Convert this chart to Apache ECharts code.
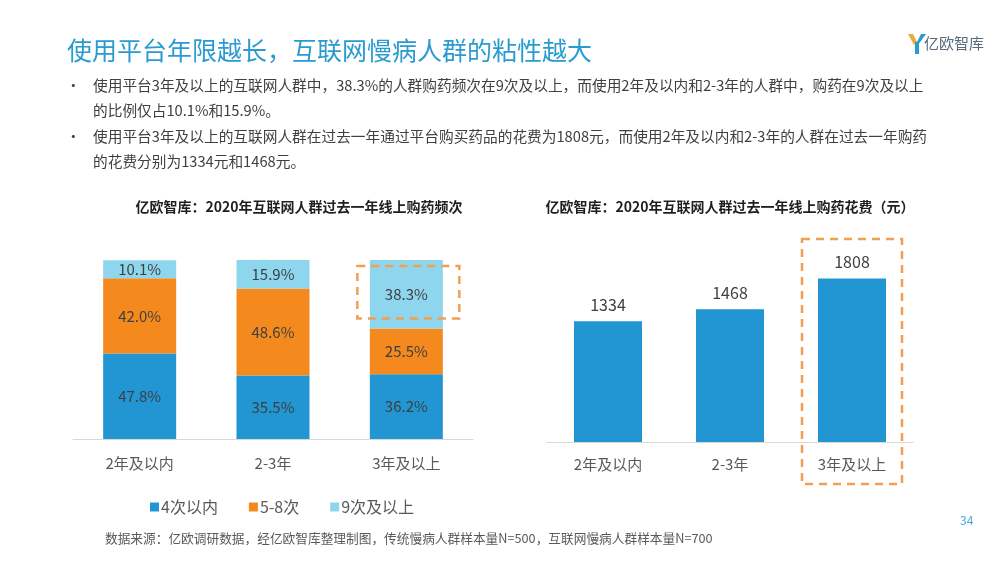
<!DOCTYPE html>
<html><head><meta charset="utf-8">
<script src="https://cdn.jsdelivr.net/npm/echarts@6/dist/echarts.min.js"></script>
<style>html,body{margin:0;padding:0;background:#fff}#c{width:1000px;height:563px}</style>
</head><body><div id="c"></div>
<script>
const categories = ['2年及以内', '2-3年', '3年及以上'];
const freqNames = ['4次以内', '5-8次', '9次及以上'];
const freqLow = [47.8, 35.5, 36.2];
const freqMid = [42.0, 48.6, 25.5];
const freqHigh = [10.1, 15.9, 38.3];
const spend = [1334, 1468, 1808];

const FONT = '"Noto Sans CJK SC", "Noto Sans", sans-serif';
const C_BLUE = '#2196D3', C_ORANGE = '#F48A1E', C_LIGHT = '#8ED6EE';
const chart = echarts.init(document.getElementById('c'));

const pctLabel = {show: true, position: 'inside', color: '#3F3F3F', fontSize: 15, fontFamily: FONT,
  formatter: p => p.value.toFixed(1) + '%'};

const option = {
  backgroundColor: '#fff',
  textStyle: {fontFamily: FONT},
  animation: false,
  title: [
    {text: '使用平台年限越长，互联网慢病人群的粘性越大', left: 62, top: 33,
      textStyle: {color: '#2A9BD0', fontSize: 25, fontWeight: 'normal', fontFamily: FONT}},
    {text: '亿欧智库：2020年互联网人群过去一年线上购药频次', left: 294, top: 195, textAlign: 'center',
      textStyle: {color: '#1F1F1F', fontSize: 14, fontWeight: 'bold', fontFamily: FONT}},
    {text: '亿欧智库：2020年互联网人群过去一年线上购药花费（元）', left: 725, top: 195, textAlign: 'center',
      textStyle: {color: '#1F1F1F', fontSize: 14, fontWeight: 'bold', fontFamily: FONT}}
  ],
  legend: {data: freqNames, left: 145, top: 494, icon: 'rect', itemWidth: 9, itemHeight: 9, itemGap: 31,
    textStyle: {color: '#595959', fontSize: 16, fontFamily: FONT, padding: [0, 0, 0, -3]}},
  grid: [
    {left: 73, width: 400, top: 260, height: 179},
    {left: 547, width: 366, top: 261, height: 181}
  ],
  xAxis: [
    {type: 'category', gridIndex: 0, data: categories,
      axisLine: {lineStyle: {color: '#D9D9D9'}}, axisTick: {show: false},
      axisLabel: {color: '#595959', fontSize: 15, margin: 17, fontFamily: FONT}},
    {type: 'category', gridIndex: 1, data: categories,
      axisLine: {lineStyle: {color: '#D9D9D9'}}, axisTick: {show: false},
      axisLabel: {color: '#595959', fontSize: 15, margin: 15, fontFamily: FONT}}
  ],
  yAxis: [
    {type: 'value', gridIndex: 0, min: 0, max: 100, show: false},
    {type: 'value', gridIndex: 1, min: 0, max: 2000, show: false}
  ],
  series: [
    {name: freqNames[0], type: 'bar', stack: 'f', xAxisIndex: 0, yAxisIndex: 0, data: freqLow,
      barWidth: 73, itemStyle: {color: C_BLUE}, label: pctLabel},
    {name: freqNames[1], type: 'bar', stack: 'f', xAxisIndex: 0, yAxisIndex: 0, data: freqMid,
      barWidth: 73, itemStyle: {color: C_ORANGE}, label: pctLabel},
    {name: freqNames[2], type: 'bar', stack: 'f', xAxisIndex: 0, yAxisIndex: 0, data: freqHigh,
      barWidth: 73, itemStyle: {color: C_LIGHT}, label: pctLabel},
    {name: '花费', type: 'bar', xAxisIndex: 1, yAxisIndex: 1, data: spend, barWidth: 68,
      itemStyle: {color: C_BLUE},
      label: {show: true, position: 'top', distance: 8, color: '#404040', fontSize: 16, fontFamily: FONT}}
  ]
};
chart.setOption(option);

// decorative overlays positioned from the axes
const px3L = chart.convertToPixel({xAxisIndex: 0}, categories[2]);
const yTopL = chart.convertToPixel({yAxisIndex: 0}, 100);
const yMidL = chart.convertToPixel({yAxisIndex: 0}, freqLow[2] + freqMid[2]);
const px3R = chart.convertToPixel({xAxisIndex: 1}, categories[2]);
const dash = {stroke: '#F0A050', lineWidth: 2.5, lineDash: [8, 6], fill: 'none'};

const bulletStyle = {fill: '#404040', fontSize: 14.7, fontFamily: FONT};
chart.setOption({graphic: [
  {type: 'rect', shape: {x: px3L - 49, y: yTopL + 6, width: 102, height: (yMidL - yTopL) - 16}, style: dash, z: 100},
  {type: 'rect', shape: {x: px3R - 50, y: 239, width: 100, height: 245}, style: dash, z: 100},
  {type: 'text', left: 66, top: 78, style: Object.assign({text: '•'}, bulletStyle)},
  {type: 'text', left: 93, top: 78, style: Object.assign({text: '使用平台3年及以上的互联网人群中，38.3%的人群购药频次在9次及以上，而使用2年及以内和2-3年的人群中，购药在9次及以上'}, bulletStyle)},
  {type: 'text', left: 93, top: 103, style: Object.assign({text: '的比例仅占10.1%和15.9%。'}, bulletStyle)},
  {type: 'text', left: 66, top: 129, style: Object.assign({text: '•'}, bulletStyle)},
  {type: 'text', left: 93, top: 129, style: Object.assign({text: '使用平台3年及以上的互联网人群在过去一年通过平台购买药品的花费为1808元，而使用2年及以内和2-3年的人群在过去一年购药'}, bulletStyle)},
  {type: 'text', left: 93, top: 154, style: Object.assign({text: '的花费分别为1334元和1468元。'}, bulletStyle)},
  {type: 'text', left: 105, top: 532, style: {text: '数据来源：亿欧调研数据，经亿欧智库整理制图，传统慢病人群样本量N=500，互联网慢病人群样本量N=700', fill: '#595959', fontSize: 12.7, fontFamily: FONT}},
  {type: 'text', left: 960, top: 514, style: {text: '34', fill: '#4AA8D8', fontSize: 12, fontFamily: FONT}},
  // logo
  {type: 'polygon', shape: {points: [[908, 34], [913, 34], [917, 42], [914, 45]]}, style: {fill: '#F2A93B'}},
  {type: 'polygon', shape: {points: [[926, 34], [921, 34], [917, 42], [918, 45]]}, style: {fill: '#2A9BD0'}},
  {type: 'rect', shape: {x: 915, y: 42, width: 4, height: 12}, style: {fill: '#2A9BD0'}},
  {type: 'text', left: 924, top: 36, style: {text: '亿欧智库', fill: '#5A6B7B', fontSize: 15, fontFamily: FONT}}
]});
</script></body></html>
